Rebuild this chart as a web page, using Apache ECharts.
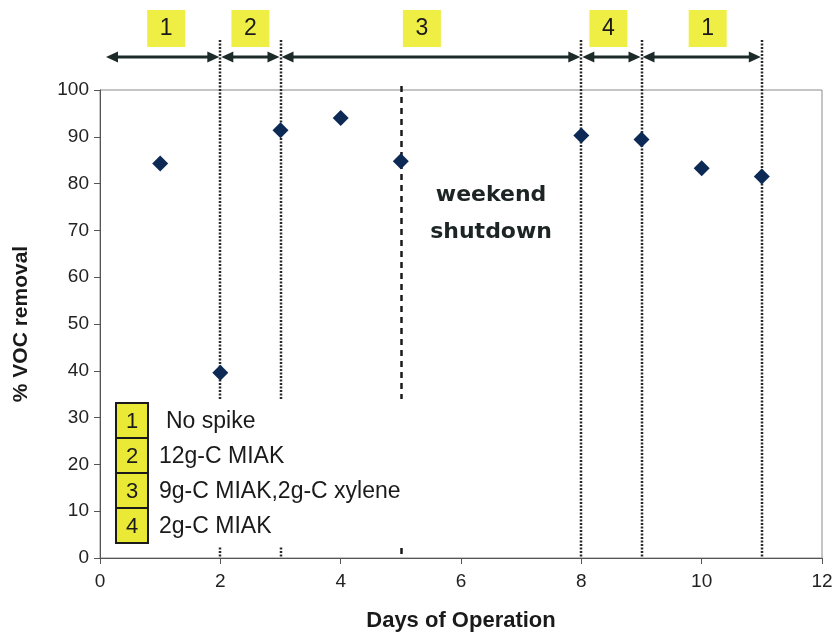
<!DOCTYPE html>
<html>
<head>
<meta charset="utf-8">
<script src="https://cdn.jsdelivr.net/npm/echarts@6/dist/echarts.min.js"></script>
<style>
  html, body { margin: 0; padding: 0; background: #fff; }
  #chart { width: 837px; height: 644px; }
</style>
</head>
<body>
<div id="chart"></div>
<script>
// Data
var days = [1, 2, 3, 4, 5, 8, 9, 10, 11];
var vocRemoval = [84.3, 39.6, 91.4, 94.0, 84.8, 90.3, 89.4, 83.3, 81.5];

// Phase boundaries (days) and the phase number for each span
var phaseStart = [0, 2, 3, 8, 9];
var phaseEnd = [2, 3, 8, 9, 11];
var phaseLabel = ['1', '2', '3', '4', '1'];
var phaseLabelAt = [1.1, 2.5, 5.35, 8.45, 10.1];

// Vertical markers
var dottedDays = [2, 3, 8, 9, 11];
var dashedDays = [5];

// Legend entries
var legendNums = ['1', '2', '3', '4'];
var legendText = ['No spike', '12g-C MIAK', '9g-C MIAK,2g-C xylene', '2g-C MIAK'];

var FONT = '"Liberation Sans", Arial, sans-serif';
var chart_element = document.getElementById('chart');
var chart = echarts.init(chart_element, null, { renderer: 'canvas' });

chart.setOption({
    animation: false,
    textStyle: { fontFamily: FONT },
    grid: {
        left: 100,
        right: 15,
        top: 90,
        bottom: 86,
        show: true,
        borderColor: '#8a8a8a',
        borderWidth: 1,
        backgroundColor: '#fff'
    },
    xAxis: {
        type: 'value',
        min: 0,
        max: 12,
        interval: 2,
        name: 'Days of Operation',
        nameLocation: 'middle',
        nameGap: 52,
        nameTextStyle: { fontSize: 22, fontWeight: 'bold', color: '#1a1a1a', fontFamily: FONT },
        axisLine: { lineStyle: { color: '#555', width: 1 } },
        axisTick: { show: true, inside: false, length: 6, lineStyle: { color: '#555' } },
        axisLabel: { fontSize: 19, color: '#222', margin: 14 },
        splitLine: { show: false }
    },
    yAxis: {
        type: 'value',
        min: 0,
        max: 100,
        interval: 10,
        name: '% VOC removal',
        nameLocation: 'middle',
        nameGap: 68,
        nameTextStyle: { fontSize: 21, fontWeight: 'bold', color: '#1a1a1a', fontFamily: FONT },
        axisLine: { show: true, lineStyle: { color: '#555', width: 1 } },
        axisTick: { show: true, inside: false, length: 6, lineStyle: { color: '#555' } },
        axisLabel: { fontSize: 19, color: '#222', margin: 11 },
        splitLine: { show: false }
    },
    series: [{
        type: 'scatter',
        symbol: 'diamond',
        symbolSize: [16, 16],
        itemStyle: { color: '#0c2a55', opacity: 1 },
        z: 20,
        data: days.map(function (d, i) { return [d, vocRemoval[i]]; })
    }]
});

// Annotation layer, placed through the axes
function px(x, y) { return chart.convertToPixel({ gridIndex: 0 }, [x, y]); }

var g = [];
var bottomY = px(0, 0)[1];
var topLineY = 40;
var arrowY = 57;
var lineColor = '#2a2a2a';

dottedDays.forEach(function (d) {
    var x = Math.round(px(d, 0)[0]);
    g.push({
        type: 'line', z: 5,
        shape: { x1: x, y1: topLineY, x2: x, y2: bottomY },
        style: { stroke: lineColor, lineWidth: 2.5, lineDash: [2, 1.5] }
    });
});
dashedDays.forEach(function (d) {
    var x = Math.round(px(d, 0)[0]) + 0.5;
    g.push({
        type: 'line', z: 5,
        shape: { x1: x, y1: px(d, 100)[1] - 4, x2: x, y2: bottomY },
        style: { stroke: '#1a1a1a', lineWidth: 2.5, lineDash: [6, 5] }
    });
});

// double-headed arrows along the top
function head(xTip, dir) {
    var L = 12, W = 5.5;
    return {
        type: 'polygon', z: 6,
        shape: { points: [[xTip, arrowY], [xTip + dir * L, arrowY - W], [xTip + dir * L, arrowY + W]] },
        style: { fill: '#1d2a2a' }
    };
}
phaseStart.forEach(function (s, i) {
    var x1 = px(s, 0)[0] + (s === 0 ? 6 : 1);
    var x2 = px(phaseEnd[i], 0)[0] - 1;
    g.push({
        type: 'line', z: 6,
        shape: { x1: x1 + 6, y1: arrowY, x2: x2 - 6, y2: arrowY },
        style: { stroke: '#1d2a2a', lineWidth: 3 }
    });
    g.push(head(x1, 1));
    g.push(head(x2, -1));

    var cx = px(phaseLabelAt[i], 0)[0];
    g.push({
        type: 'rect', z: 6,
        shape: { x: cx - 19, y: 10, width: 38, height: 37 },
        style: { fill: '#eeee45' }
    });
    g.push({
        type: 'text', z: 7,
        x: cx, y: 29,
        style: {
            text: phaseLabel[i], font: '23px ' + FONT, fill: '#1a1a1a',
            align: 'center', verticalAlign: 'middle'
        }
    });
});

// weekend shutdown note
var note = px(6.5, 74);
g.push({
    type: 'text', z: 7,
    x: note[0], y: note[1] + 2,
    style: {
        text: 'weekend\nshutdown', font: 'bold 22px "DejaVu Sans", Verdana, sans-serif',
        fill: '#1c2424', align: 'center', verticalAlign: 'middle', lineHeight: 37
    }
});

// legend box (white background hides the marker lines behind it)
g.push({
    type: 'rect', z: 10,
    shape: { x: 110, y: 399, width: 304, height: 147 },
    style: { fill: '#fff' }
});
var rowH = 35, boxX = 116, boxY = 403;
legendNums.forEach(function (n, i) {
    g.push({
        type: 'rect', z: 11,
        shape: { x: boxX, y: boxY + i * rowH, width: 32, height: rowH },
        style: { fill: '#e9e936', stroke: '#1a1a1a', lineWidth: 2 }
    });
    g.push({
        type: 'text', z: 12,
        x: boxX + 16, y: boxY + i * rowH + rowH / 2 + 1,
        style: { text: n, font: '22px ' + FONT, fill: '#1a1a1a', align: 'center', verticalAlign: 'middle' }
    });
    g.push({
        type: 'text', z: 12,
        x: i === 0 ? 166 : 159, y: boxY + i * rowH + rowH / 2 + 1,
        style: { text: legendText[i], font: '23px ' + FONT, fill: '#1a1a1a', align: 'left', verticalAlign: 'middle' }
    });
});

chart.setOption({ graphic: g });
</script>
</body>
</html>
